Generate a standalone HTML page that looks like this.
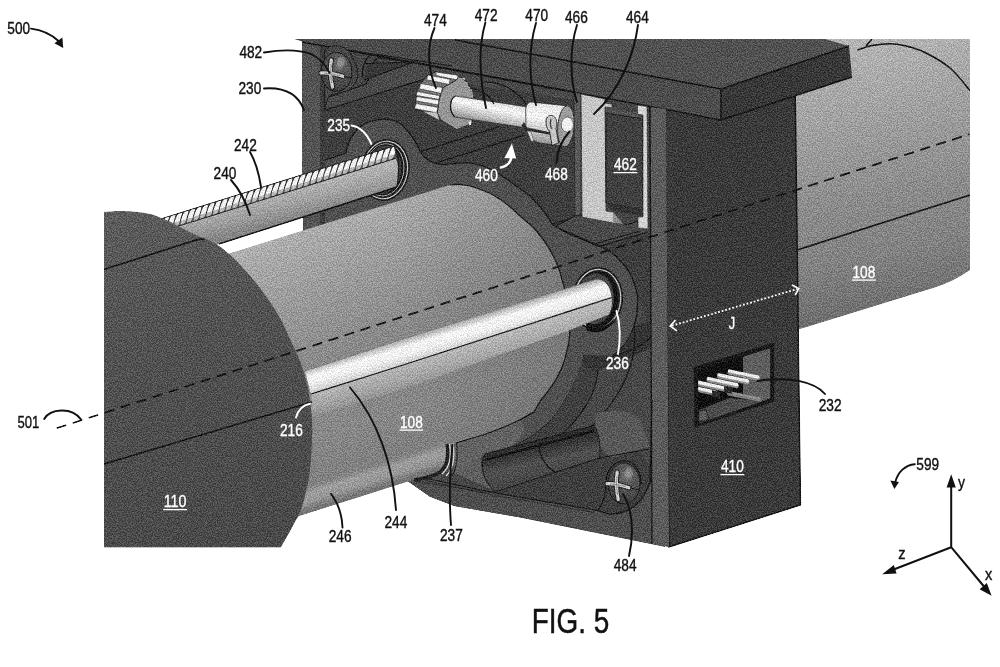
<!DOCTYPE html>
<html><head><meta charset="utf-8"><title>FIG. 5</title>
<style>
html,body{margin:0;padding:0;background:#fff;}
body{width:1000px;height:667px;overflow:hidden;font-family:"Liberation Sans",sans-serif;}
svg{display:block}
text{font-family:"Liberation Sans",sans-serif;}
.lb{font-size:16.6px;fill:#111;stroke:#111;stroke-width:0.4px;}
.lw{font-size:16.6px;fill:#fff;stroke:#fff;stroke-width:0.35px;}
.ld{stroke:#111;stroke-width:1.9;fill:none;stroke-linecap:round}
.lwd{stroke:#fff;stroke-width:1.9;fill:none;stroke-linecap:round}
.k{stroke:#151515;stroke-width:1.5;fill:none}
.k2{stroke:#181818;stroke-width:1.25;fill:none}
.k3{stroke:#222;stroke-width:0.8;fill:none;opacity:.8}
</style></head><body>
<svg width="1000" height="667" viewBox="0 0 1000 667">
<defs>
<linearGradient id="gRC" gradientUnits="userSpaceOnUse" x1="850" y1="39" x2="905" y2="310">
 <stop offset="0" stop-color="#b6b6b6"/><stop offset="0.35" stop-color="#9c9c9c"/><stop offset="0.6" stop-color="#8a8a8a"/><stop offset="0.78" stop-color="#828282"/><stop offset="1" stop-color="#6c6c6c"/>
</linearGradient>
<linearGradient id="gMC" gradientUnits="userSpaceOnUse" x1="330" y1="218" x2="415" y2="495">
 <stop offset="0" stop-color="#b0b0b0"/><stop offset="0.22" stop-color="#9c9c9c"/><stop offset="0.45" stop-color="#8a8a8a"/><stop offset="0.7" stop-color="#888"/><stop offset="0.85" stop-color="#808080"/><stop offset="1" stop-color="#757575"/>
</linearGradient>
<linearGradient id="gDC" gradientUnits="userSpaceOnUse" x1="150" y1="210" x2="250" y2="548">
 <stop offset="0" stop-color="#5c5c5c"/><stop offset="0.35" stop-color="#525252"/><stop offset="1" stop-color="#494949"/>
</linearGradient>
<linearGradient id="gRodU" gradientUnits="userSpaceOnUse" x1="450" y1="325" x2="458" y2="351">
 <stop offset="0" stop-color="#ababab"/><stop offset="0.3" stop-color="#f6f6f6"/><stop offset="0.55" stop-color="#f0f0f0"/><stop offset="0.85" stop-color="#d2d2d2"/><stop offset="1" stop-color="#bababa"/>
</linearGradient>
<linearGradient id="gRodL" gradientUnits="userSpaceOnUse" x1="450" y1="351" x2="457" y2="375">
 <stop offset="0" stop-color="#b8b8b8"/><stop offset="0.6" stop-color="#a4a4a4"/><stop offset="1" stop-color="#909090"/>
</linearGradient>
<linearGradient id="gR240" gradientUnits="userSpaceOnUse" x1="300" y1="187" x2="307" y2="215">
 <stop offset="0" stop-color="#b4b4b4"/><stop offset="0.5" stop-color="#a0a0a0"/><stop offset="1" stop-color="#868686"/>
</linearGradient>
<linearGradient id="gShaft" gradientUnits="userSpaceOnUse" x1="488" y1="100" x2="483" y2="123">
 <stop offset="0" stop-color="#dcdcdc"/><stop offset="0.3" stop-color="#f6f6f6"/><stop offset="0.7" stop-color="#c0c0c0"/><stop offset="1" stop-color="#8a8a8a"/>
</linearGradient>
<linearGradient id="gCoup" gradientUnits="userSpaceOnUse" x1="550" y1="103" x2="543" y2="148">
 <stop offset="0" stop-color="#e4e4e4"/><stop offset="0.35" stop-color="#f4f4f4"/><stop offset="0.7" stop-color="#bdbdbd"/><stop offset="1" stop-color="#7e7e7e"/>
</linearGradient>
<linearGradient id="gSlot" gradientUnits="userSpaceOnUse" x1="540" y1="440" x2="548" y2="476">
 <stop offset="0" stop-color="#2c2c2c"/><stop offset="0.3" stop-color="#3a3a3a"/><stop offset="0.6" stop-color="#505050"/><stop offset="1" stop-color="#464646"/>
</linearGradient>
<linearGradient id="g246" gradientUnits="userSpaceOnUse" x1="350" y1="470" x2="359.1" y2="498.6">
 <stop offset="0" stop-color="#8a8a8a" stop-opacity="0"/><stop offset="0.3" stop-color="#a8a8a8" stop-opacity="0.75"/><stop offset="0.6" stop-color="#a0a0a0" stop-opacity="0.75"/><stop offset="0.82" stop-color="#787878" stop-opacity="0.7"/><stop offset="1" stop-color="#6a6a6a" stop-opacity="0.9"/>
</linearGradient>
<linearGradient id="gAx" gradientUnits="userSpaceOnUse" x1="300" y1="330" x2="570" y2="245">
 <stop offset="0" stop-color="#000" stop-opacity="0"/><stop offset="0.4" stop-color="#000" stop-opacity="0.02"/><stop offset="1" stop-color="#000" stop-opacity="0.13"/>
</linearGradient>
<radialGradient id="gScrew" cx="0.6" cy="0.3" r="0.7">
 <stop offset="0" stop-color="#8a8a8a"/><stop offset="0.25" stop-color="#5e5e5e"/><stop offset="1" stop-color="#3e3e3e"/>
</radialGradient>
<pattern id="thread" patternUnits="userSpaceOnUse" width="7" height="40" patternTransform="rotate(-17.5)">
 <rect width="7" height="40" fill="#f2f2f2"/>
 <path d="M0.2,40 C0.5,26 1.5,12 6.8,0 M7.2,40 C7.5,26 8.5,12 13.8,0 M-6.8,40 C-6.5,26 -5.5,12 -0.2,0" stroke="#2a2a2a" stroke-width="1.5" fill="none"/>
</pattern>
<filter id="grain" x="0" y="0" width="100%" height="100%" color-interpolation-filters="sRGB">
 <feTurbulence type="fractalNoise" baseFrequency="0.8" numOctaves="2" seed="7" result="n"/>
 <feColorMatrix in="n" type="matrix" values="3 0 0 0 -1  3 0 0 0 -1  3 0 0 0 -1  0 0 0 0 1" result="g"/>
 <feComposite in="SourceGraphic" in2="g" operator="arithmetic" k1="0" k2="1" k3="0.18" k4="-0.09" result="c"/>
 <feComposite in="c" in2="SourceAlpha" operator="in"/>
</filter>
<clipPath id="clipImg"><rect x="104" y="39" width="866" height="509"/></clipPath>
</defs>
<rect width="1000" height="667" fill="#fff"/>
<g id="art" filter="url(#grain)">

<g id="rightcyl">
<path d="M795,39 L970,39 L970,270 Q955,281 935,287.5 L800,329 L795,330 Z" fill="url(#gRC)"/>
<path class="k" d="M857.5,50.0 C859.9,49.2 866.6,46.5 872.0,45.5 C877.4,44.5 884.5,43.8 890.0,43.8 C895.5,43.8 899.2,44.3 905.0,45.8 C910.8,47.2 917.5,48.8 925.0,52.5 C932.5,56.2 942.5,61.7 950.0,68.0 C957.5,74.3 966.7,86.8 970.0,90.5"/>
<path class="k" d="M872,39 L866,46"/>
<path class="k" d="M797,250 L970,195"/>
</g>

<g id="housing">
<!-- interior back -->
<path d="M304,39 L665,39 L665,547 L520,517.5 L454,506 L430,496.7 L407.5,481 L303,232 Z" fill="#464646"/>
<!-- darker back wall regions -->
<path d="M325,110 L428,78 L575,100 L575,215 L600,232 L650,232 L650,330 L640,300 L620,262 L594,244 L552,224 L530,195 L502,176 L470,163 L430,165 L420,151 L404,127 L372,121 L354,131 L346,153 L325,160 Z" fill="#3e3e3e"/>
<!-- top recess wedge -->
<path d="M329,97 L366,84 L372,60 L414,62 L575,92 L575,100 L428,78 L325,110 Z" fill="#4a4a4a"/>
<!-- left front strip -->
<path d="M302,39 L320,39 L320,228 L304.5,232 L302,200 Z" fill="#545454"/>
<path d="M294,39 L302,39 L302,41.5 Z" fill="#444"/>
<path d="M320,42 L325,44 L325,226 L320,228 Z" fill="#3c3c3c"/>
<!-- right front strip -->
<path d="M650,107 L666,109 L669,547 L652,543 Z" fill="#5b5b5b"/>
<!-- right face 410 -->
<path d="M665,109 L721,120 L795.2,95.5 L800.5,505 L669,547 Z" fill="#3a3a3a"/>
<!-- top plate -->
<path d="M455,39 L825,39 L849,46 L721,89 Z" fill="#515151"/>
<path d="M302,39 L455,39 L721,89 L721,120 L664,109 L302,41.9 Z" fill="#4c4c4c"/>
<path d="M721,89 L849,46 L852,77 L721,120 Z" fill="#383838"/>
<path class="k" d="M455,40 L721,89 L849,46 M721,89 L721,120 M302,41.9 L664,109 L721,120 L852,77 M665,109 L669,547 L800.5,505 L795.2,95.5"/>
<path class="k2" d="M650,107 L652,543"/>
</g>

<g id="bossplate">
<path d="M325,226 L325,160 L346,153 C348,138 358,124 372,121 C386,117 398,120 404,127 C412,135 417,144 420,151 C424,158 432,164 444,164.5 C452,164 462,162 470,163 C484,165 494,170 502,176 C514,184 522,190 529.5,195.5 C540,206 548,216 552,224 C562,232 580,238 594,244.4 C606,248 614,253 620,260.5 C628,268 632,276 634,283 C637,290 638,296 637.5,302 C638,312 636,320 634,326 C630,340 622,350 612,356 L584,355 C583,362 581,368 579.4,373 C576,384 571,392 565,400 C560,410 554,417 549,422.7 C530,440 505,452 480,458 L456.6,474 L445,470 L430,496.7 L407.5,481 L390,440 Z" fill="#505050"/>
<path class="k2" d="M325,160 L346,153 C348,138 358,124 372,121 C386,117 398,120 404,127 C412,135 417,144 420,151 C424,158 432,164 444,164.5 C452,164 462,162 470,163 C484,165 494,170 502,176 C514,184 522,190 529.5,195.5 C540,206 548,216 552,224 C562,232 580,238 594,244.4 C606,248 614,253 620,260.5 C628,268 632,276 634,283 C637,290 638,296 637.5,302 C638,312 636,320 634,326 C630,340 622,350 612,356"/>
<path class="k2" d="M584,355 C583,362 581,368 579.4,373 C576,384 571,392 565,400 C560,410 554,417 549,422.7 C530,440 505,452 480,458"/>
</g>

<g id="interior">
<!-- back wall lines -->
<path class="k2" d="M325,110 L428,78 M329,97 L366,84 M366,84 C372,76 368,64 378,58 L414,62 M414,62 L575,92 M335,48 L452,66"/>
<path class="k2" d="M421,151.5 L499.5,126.6 M436,163 L523.6,135.4 M552,224 L600,210 M600,232 L650,218 M575,215 L600,232"/>
<!-- screw 482 -->
<path d="M324.7,109.6 L325.5,105.6 C327,99 330,95 332,94.4 C340,93 346,92 349.6,89.6 C355,85 357,80 357.6,76.7 C358,70 357,66 354.4,62.3 C352,54 348,49 343,47 C336,44.5 328,46 324.7,50.2 Z" fill="#484848" stroke="#1c1c1c" stroke-width="1"/>
<path d="M367,64 L414,62 L364,80 Z" fill="#383838"/>
<path class="k2" d="M362.4,78.3 C362,70 364,60 370.4,55 L385,56 M365.6,63.5 L414,62 L364,80"/>
<ellipse cx="336.5" cy="72" rx="15.5" ry="19.5" fill="url(#gScrew)" stroke="#1a1a1a" stroke-width="1"/>
<ellipse cx="341" cy="62" rx="4" ry="5" fill="#9a9a9a" opacity="0.6"/>
<path d="M331.3,60 C329.8,68 330.3,78 332.5,87 M321,73 C328,72.5 336,74.3 343,76.3" stroke="#222" stroke-width="5.2" fill="none" stroke-linecap="round"/>
<path d="M331.3,60 C329.8,68 330.3,78 332.5,87 M321,73 C328,72.5 336,74.3 343,76.3" stroke="#cfcfcf" stroke-width="3.2" fill="none" stroke-linecap="round"/>
<path d="M331.2,64 C330.4,70 330.6,76 331.8,83 M324,73.3 C329,73.2 335,74.5 340,75.8" stroke="#777" stroke-width="0.8" fill="none"/>
<path d="M344,76.5 L352,78" stroke="#1c1c1c" stroke-width="1" fill="none"/>
<!-- gear 474 -->
<path d="M435.6,72.0 L427.8,75.0 L420.6,83.4 L417.0,91.5 L415.8,103.5 L414.6,108.6 L423.0,111.6 L437.4,112.8 L438.6,105.0 L441.0,93.6 L443.4,87.6 L450.0,84.0 L456.6,79.8 L458.4,76.8 L456.6,75.0 Z" fill="#757575" stroke="#1e1e1e" stroke-width="0.9"/>
<path d="M435.6,72.0 L456.6,75.0 L458.4,76.8 L456.6,79.8 L436.2,75.6 Z" fill="#f2f2f2" stroke="#2a2a2a" stroke-width="0.6"/>
<path d="M427.8,75.0 L450.0,79.2 L449.4,84.6 L426.6,79.8 Z" fill="#f2f2f2" stroke="#2a2a2a" stroke-width="0.6"/>
<path d="M420.6,83.4 L442.2,87.6 L441.6,93.6 L419.4,88.8 Z" fill="#f2f2f2" stroke="#2a2a2a" stroke-width="0.6"/>
<path d="M417.0,91.5 L439.8,95.7 L439.2,99.4 L416.4,95.4 Z" fill="#f2f2f2" stroke="#2a2a2a" stroke-width="0.6"/>
<path d="M416.8,96.6 L439.2,100.2 L438.6,105.0 L415.8,100.8 Z" fill="#f2f2f2" stroke="#2a2a2a" stroke-width="0.6"/>
<path d="M415.8,103.5 L438.0,107.4 L436.8,112.8 L414.6,108.6 Z" fill="#f2f2f2" stroke="#2a2a2a" stroke-width="0.6"/>
<path d="M423.0,111.6 L437.4,112.8 L439.2,120.0 L435.0,117.6 Z" fill="#c0c0c0"/>
<path d="M458.4,76.8 L462.6,78.0 L465.0,81.0 L468.0,81.6 L468.6,85.8 L472.2,88.8 L473.7,96.0 L474.0,110.4 L472.2,120.0 L468.6,124.8 L456.6,129.6 L441.0,120.0 L437.4,112.8 L438.6,105.0 L439.2,100.2 L441.0,93.6 L443.4,87.6 L450.0,84.0 L456.6,79.8 Z" fill="#969696" stroke="#2a2a2a" stroke-width="0.8"/>
<path d="M462.4,78.0 L464.4,77.8 L465.0,80.4 Z" fill="#e8e8e8"/>
<path d="M468.6,121.8 L471.6,120.6 L471.0,124.8 L469.2,125.4 Z" fill="#e8e8e8"/>
<!-- shaft 472 -->
<path d="M455.4,96 C450,98 448,110 454.8,117 L527,128 L528,107 Z" fill="url(#gShaft)" stroke="#2a2a2a" stroke-width="0.7"/>
<path d="M455.4,96 C449.5,99 448.5,111 454.8,117" stroke="#1e1e1e" stroke-width="1.3" fill="none"/>
<!-- arcs behind shaft -->
<path class="k2" d="M482,82 C500,80 520,92 527,106 M470,88 C482,90 490,96 494,104"/>
<!-- coupling 470 -->
<path d="M525.7,110 C526,105 528,102 531,102 L565.6,105.7 C572,112 575,134 568,146.7 L540,143 C532,141 528,136 526,129 Z" fill="url(#gCoup)" stroke="#2a2a2a" stroke-width="0.8"/>
<ellipse cx="566" cy="126.3" rx="8.3" ry="20.6" fill="#9c9c9c" stroke="#2a2a2a" stroke-width="0.9" transform="rotate(5 566 126.3)"/>
<ellipse cx="567.3" cy="124.6" rx="6" ry="7.6" fill="#f2f2f2" stroke="#333" stroke-width="0.6"/>
<path d="M521.5,125.5 L524,122 L527,127.5 L551,132.5 L551,135 L526,130.5 Z" fill="#2e2e2e"/>
<path d="M546,122 C546,116 550,114.5 553.5,116 C557,118 557.5,124 556,128 L558.5,143 L552,145.5 L549.5,131 C547,129 546,126 546,122 Z" fill="#c4c4c4" stroke="#262626" stroke-width="0.9"/>
<path d="M551,119 C550,123 550.5,127 552,129" stroke="#333" stroke-width="1.2" fill="none"/>
<path d="M527,131 L531,141 L534,142 L531,131.5 Z" fill="#d8d8d8" stroke="#333" stroke-width="0.5"/>
<!-- 466 strip -->
<path d="M574,92 L581,94 L581,214 L575,216 Z" fill="#5a5a5a" stroke="#222" stroke-width="0.7"/>
<!-- 464 bracket -->
<path d="M581,94 L605,99 L605,103 L612,104 L612,108 L605,107 L606,211 L613,212 L623,224 L613,223 L582,217 Z" fill="#c6c6c6" stroke="#2a2a2a" stroke-width="0.7"/>
<path d="M613,212 L623,224 L613,223 Z" fill="#8f8f8f"/>
<!-- 462 block -->
<path d="M606,108 L638,113 L638,118 L606,113 Z" fill="#525252"/>
<path d="M606,113 L643,119 L643,210 L606,203 Z" fill="#404040" stroke="#1c1c1c" stroke-width="0.9"/>
<path d="M606,203 L643,210 L643,216 L613,211 Z" fill="#333"/>
<!-- right light strip -->
<path d="M637.5,105 L647,106.5 L648,229 L638,228 L638,217 L643,217 L643,115 L637.5,114 Z" fill="#d2d2d2" stroke="#2a2a2a" stroke-width="0.6"/>
<!-- floor under bracket -->
<path d="M556,226 L575,216 L582,217 L613,223 L623,224 L638,228 L648,232 L600,246 Z" fill="#4a4a4a"/>
<path class="k2" d="M556,226 L575,216 M560,229 L600,246 L648,232 M594,244 L640,231"/>
</g>

<g id="lowerint">
<!-- darker zones beyond ring plate -->
<path d="M584,355 L612,356 C624,350 631,338 634,326 L650,330 L652,400 L652,480 C648,500 640,510 625,514 L610,514 L595,510 L492,492 L456.6,474 L480,458 C505,452 530,440 549,422.7 C560,410 576,384 584,355 Z" fill="#3f3f3f"/>
<path d="M598,370 C620,362 640,352 650,345 L652,470 C640,440 600,430 560,436 C580,418 592,396 598,370 Z" fill="#484848"/>
<path d="M584,355 L612,356 C624,350 631,338 634,326 L651,321 L652,347 C640,354 620,363 598,370 C594,372 588,370 583,364 Z" fill="#343434"/>
<!-- arcs -->
<path class="k2" d="M598,370 C596,396 580,418 560,436 M612,356 C640,350 648,340 652,336 M634,326 C640,370 610,420 560,450"/>
<path d="M456,443 C476,437 502,428 520,420 C530,430 520,446 500,450 C488,452 482,454 481,460 C480,470 484,480 492,490 L456.6,474 L446,447 Z" fill="#676767" opacity="0.8"/>
<path d="M596,414 C610,408 630,410 640,420 L650,446 L612,458 C600,452 592,436 596,414 Z" fill="#585858"/>
<!-- groove slot -->
<path d="M485,454 L594,425.5 C599,432 601,446 599.4,458 L495.4,492 C486,484 478,468 485,454 Z" fill="url(#gSlot)" stroke="#1a1a1a" stroke-width="1"/>
<path d="M485,460 L594,431" stroke="#161616" stroke-width="2.6" fill="none"/>
<path class="k2" d="M540,443 C537,452 544,466 555,472 M599.4,458 L649,449"/>
<!-- bottom front strip -->
<path d="M407.5,481 L422,477.5 L492.5,492.5 L595,510 L610,514 C628,514 642,505 650,482 L652,400 L660,400 L660,545 L520,517.5 L454,506 L430,496.7 Z" fill="#4e4e4e"/>
<path d="M650,107 L666,109 L669,547 L652,543.5 Z" fill="#5b5b5b"/>
<path class="k2" d="M650,107 L652,543.5"/>
<path class="k2" d="M422,477.5 L492.5,492.5 L595,510 L610,514 C628,514 642,505 650,482 L652,400"/>
<path class="k3" d="M424,480 L492.5,495 L595,512.5"/>
<!-- screw 484 -->
<path d="M598,510 C604,502 606,494 606,484 C606,470 614,460 626,461 C636,462 641,472 641,484" class="k2"/>
<ellipse cx="624" cy="483.5" rx="16" ry="20.5" fill="url(#gScrew)" stroke="#1a1a1a" stroke-width="1"/>
<ellipse cx="629" cy="473" rx="4" ry="5" fill="#9a9a9a" opacity="0.6"/>
<path d="M617.2,472 C615.8,480 616.2,490 618.2,499.5 M607,483.6 C614,483.2 622,485.3 629,487.8" stroke="#222" stroke-width="5.2" fill="none" stroke-linecap="round"/>
<path d="M617.2,472 C615.8,480 616.2,490 618.2,499.5 M607,483.6 C614,483.2 622,485.3 629,487.8" stroke="#cfcfcf" stroke-width="3.2" fill="none" stroke-linecap="round"/>
<path d="M617,476 C616.3,482 616.5,488 617.6,495 M610,484 C615,483.9 621,485.4 626,486.9" stroke="#777" stroke-width="0.8" fill="none"/>
<path d="M630,488 L639.5,490" stroke="#1c1c1c" stroke-width="1" fill="none"/>
</g>

<g id="leadscrew">
<!-- bearing 235 ring (behind rod) -->
<g transform="rotate(9 385 170)">
<ellipse cx="385" cy="170" rx="24" ry="30.5" fill="#2a2a2a" stroke="#161616" stroke-width="1"/>
<ellipse cx="385" cy="170" rx="22.4" ry="28.9" fill="none" stroke="#d0d0d0" stroke-width="1.1"/>
<ellipse cx="384.6" cy="170" rx="21" ry="27.5" fill="#181818"/>
<ellipse cx="384.2" cy="170" rx="19.6" ry="26.2" fill="none" stroke="#b8b8b8" stroke-width="0.9"/>
<ellipse cx="383.5" cy="170" rx="18.4" ry="25" fill="#3c3c3c" stroke="#141414" stroke-width="0.8"/>
</g>
<!-- rod 240 -->
<path d="M150,234.9 L396,158.2 C399,166 399.5,178 397,187 L190,253.5 Z" fill="url(#gR240)"/>
<path d="M219,244 L397,187" class="k"/>
<!-- thread 242 -->
<clipPath id="clipThr"><path d="M150,222.2 L394,146 L396,158.2 L150,234.9 Z"/></clipPath>
<path d="M150,222.2 L394,146 L396,158.2 L150,234.9 Z" fill="#555"/>
<g fill="#f4f4f4" stroke="#2c2c2c" stroke-width="1" clip-path="url(#clipThr)"><ellipse cx="152.0" cy="227.9" rx="3.1" ry="9.5" transform="rotate(20.7 152.0 227.9)"/><ellipse cx="158.5" cy="225.9" rx="3.1" ry="9.5" transform="rotate(20.7 158.5 225.9)"/><ellipse cx="165.0" cy="223.9" rx="3.1" ry="9.5" transform="rotate(20.7 165.0 223.9)"/><ellipse cx="171.5" cy="221.8" rx="3.1" ry="9.5" transform="rotate(20.7 171.5 221.8)"/><ellipse cx="178.0" cy="219.8" rx="3.1" ry="9.5" transform="rotate(20.7 178.0 219.8)"/><ellipse cx="184.5" cy="217.8" rx="3.1" ry="9.5" transform="rotate(20.7 184.5 217.8)"/><ellipse cx="191.0" cy="215.8" rx="3.1" ry="9.5" transform="rotate(20.7 191.0 215.8)"/><ellipse cx="197.5" cy="213.7" rx="3.1" ry="9.5" transform="rotate(20.7 197.5 213.7)"/><ellipse cx="204.0" cy="211.7" rx="3.1" ry="9.5" transform="rotate(20.7 204.0 211.7)"/><ellipse cx="210.5" cy="209.7" rx="3.1" ry="9.5" transform="rotate(20.7 210.5 209.7)"/><ellipse cx="217.0" cy="207.6" rx="3.1" ry="9.5" transform="rotate(20.7 217.0 207.6)"/><ellipse cx="223.5" cy="205.6" rx="3.1" ry="9.5" transform="rotate(20.7 223.5 205.6)"/><ellipse cx="230.0" cy="203.6" rx="3.1" ry="9.5" transform="rotate(20.7 230.0 203.6)"/><ellipse cx="236.5" cy="201.6" rx="3.1" ry="9.5" transform="rotate(20.7 236.5 201.6)"/><ellipse cx="243.0" cy="199.5" rx="3.1" ry="9.5" transform="rotate(20.7 243.0 199.5)"/><ellipse cx="249.5" cy="197.5" rx="3.1" ry="9.5" transform="rotate(20.7 249.5 197.5)"/><ellipse cx="256.0" cy="195.5" rx="3.1" ry="9.5" transform="rotate(20.7 256.0 195.5)"/><ellipse cx="262.5" cy="193.4" rx="3.1" ry="9.5" transform="rotate(20.7 262.5 193.4)"/><ellipse cx="269.0" cy="191.4" rx="3.1" ry="9.5" transform="rotate(20.7 269.0 191.4)"/><ellipse cx="275.5" cy="189.4" rx="3.1" ry="9.5" transform="rotate(20.7 275.5 189.4)"/><ellipse cx="282.0" cy="187.4" rx="3.1" ry="9.5" transform="rotate(20.7 282.0 187.4)"/><ellipse cx="288.5" cy="185.3" rx="3.1" ry="9.5" transform="rotate(20.7 288.5 185.3)"/><ellipse cx="295.0" cy="183.3" rx="3.1" ry="9.5" transform="rotate(20.7 295.0 183.3)"/><ellipse cx="301.5" cy="181.3" rx="3.1" ry="9.5" transform="rotate(20.7 301.5 181.3)"/><ellipse cx="308.0" cy="179.2" rx="3.1" ry="9.5" transform="rotate(20.7 308.0 179.2)"/><ellipse cx="314.5" cy="177.2" rx="3.1" ry="9.5" transform="rotate(20.7 314.5 177.2)"/><ellipse cx="321.0" cy="175.2" rx="3.1" ry="9.5" transform="rotate(20.7 321.0 175.2)"/><ellipse cx="327.5" cy="173.2" rx="3.1" ry="9.5" transform="rotate(20.7 327.5 173.2)"/><ellipse cx="334.0" cy="171.1" rx="3.1" ry="9.5" transform="rotate(20.7 334.0 171.1)"/><ellipse cx="340.5" cy="169.1" rx="3.1" ry="9.5" transform="rotate(20.7 340.5 169.1)"/><ellipse cx="347.0" cy="167.1" rx="3.1" ry="9.5" transform="rotate(20.7 347.0 167.1)"/><ellipse cx="353.5" cy="165.0" rx="3.1" ry="9.5" transform="rotate(20.7 353.5 165.0)"/><ellipse cx="360.0" cy="163.0" rx="3.1" ry="9.5" transform="rotate(20.7 360.0 163.0)"/><ellipse cx="366.5" cy="161.0" rx="3.1" ry="9.5" transform="rotate(20.7 366.5 161.0)"/><ellipse cx="373.0" cy="159.0" rx="3.1" ry="9.5" transform="rotate(20.7 373.0 159.0)"/><ellipse cx="379.5" cy="156.9" rx="3.1" ry="9.5" transform="rotate(20.7 379.5 156.9)"/><ellipse cx="386.0" cy="154.9" rx="3.1" ry="9.5" transform="rotate(20.7 386.0 154.9)"/><ellipse cx="392.5" cy="152.9" rx="3.1" ry="9.5" transform="rotate(20.7 392.5 152.9)"/></g>
<path d="M150,230.6 L395,154 L396,158.2 L150,234.9 Z" fill="#7a7a7a" opacity="0.5"/>
<path d="M150,222.2 L394,146 M150,234.9 L396,158.2" stroke="#222" stroke-width="1" fill="none"/>
<path d="M394,146 C397,150 399,160 398.5,172 C398,180 397.5,184 397,187" stroke="#1a1a1a" stroke-width="1.2" fill="none"/>
</g>

<g id="midcyl">
<path d="M200,262.5 L304.5,230 L450,185 C456,184 462,184 470,186 C480,189 488,192 494,195.5 C504,201 513,209 520,216 C526,221 530,224 533,227 C541,236 546,243 550,250 C556,260 560,270 562,280 C565,288 566,294 567,300 C569,310 570,318 570,327 C570,336 569,344 566.5,352 C565,360 562,368 558.5,374.6 C554,384 548,392 541,400 C538,404 536,408 534.5,411.6 C526,417 518,421 510,424.5 C502,428 494,431 486,434 C476,437 466,440 456,443 L446,447 L445,464.6 C443,469 440,472 435,474 C429,476 423,478 417,479 L407.7,481.4 L299,516 L296,520 L260,400 Z" fill="url(#gMC)"/>
<path d="M200,262.5 L304.5,230 L450,185 C456,184 462,184 470,186 C480,189 488,192 494,195.5 C504,201 513,209 520,216 C526,221 530,224 533,227 C541,236 546,243 550,250 C556,260 560,270 562,280 C565,288 566,294 567,300 C569,310 570,318 570,327 C570,336 569,344 566.5,352 C565,360 562,368 558.5,374.6 C554,384 548,392 541,400 C538,404 536,408 534.5,411.6 C526,417 518,421 510,424.5 C502,428 494,431 486,434 C476,437 466,440 456,443 L446,447 L445,464.6 C443,469 440,472 435,474 C429,476 423,478 417,479 L407.7,481.4 L299,516 L296,520 L260,400 Z" fill="url(#gAx)"/>
<path class="k2" d="M450,185 C456,184 462,184 470,186 C480,189 488,192 494,195.5 C504,201 513,209 520,216 C526,221 530,224 533,227 C541,236 546,243 550,250 C556,260 560,270 562,280 C565,288 566,294 567,300 C569,310 570,318 570,327 C570,336 569,344 566.5,352 C565,360 562,368 558.5,374.6 C554,384 548,392 541,400 C538,404 536,408 534.5,411.6 C526,417 518,421 510,424.5 C502,428 494,431 486,434 C476,437 466,440 456,443"/>
<!-- 246 lower band -->
<path d="M290,487 L440,439 L446,447 L445,464.6 C443,469 440,472 435,474 L407.7,481.4 L299,516 L290,519 Z" fill="url(#g246)"/>
</g>

<g id="boss237">
<path d="M447,444 C449,456 448,466 440,472 C432,477 422,479 414,480" fill="none" stroke="#222" stroke-width="3.4"/>
<path d="M449.5,444 C451.5,456 450,467 442,474" fill="none" stroke="#e2e2e2" stroke-width="1.1"/>
<path d="M453,443 C455,456 454,468 446,476" fill="none" stroke="#e2e2e2" stroke-width="1.1"/>
<path d="M456.5,443 C458,456 457,468 452,476" fill="none" stroke="#1c1c1c" stroke-width="1"/>
<path class="k3" d="M416,482 C436,484 470,490 492,493"/>
</g>

<g id="rod244">
<!-- bearing 236 back -->
<g transform="rotate(5 597.5 299)">
<ellipse cx="597.5" cy="299" rx="25" ry="31.4" fill="#2a2a2a" stroke="#181818" stroke-width="1"/>
<ellipse cx="597.5" cy="299" rx="23.2" ry="29.6" fill="none" stroke="#c8c8c8" stroke-width="1.2"/>
<ellipse cx="597" cy="299" rx="21.6" ry="28" fill="#161616"/>
<ellipse cx="595" cy="299" rx="19" ry="25.5" fill="#444"/>
</g>
<!-- lower half -->
<path d="M311,394 L400,366 L611.7,297.5 C612.5,304 611.5,310 609,314.4 L568.5,330.6 L400,390 L312,417 Z" fill="url(#gRodL)"/>
<!-- upper half -->
<path d="M305,371 L340,360 L400,340 L594,280 C603,278 610,284 611.7,297.5 L400,366 L311,394 Z" fill="url(#gRodU)"/>
<path d="M311,394 L400,366 L611.7,297.5" class="k2"/>
<path d="M305,371 L400,340 L594,280" stroke="#777" stroke-width="0.6" fill="none"/>
<!-- ring front part -->
<path d="M586,324 C594,330 606,328 614.4,318.4 C610,330 598,336 586,330 Z" fill="#141414"/>
<path d="M611.7,286 C614.5,292 615,306 612,314 C616,310 618,292 611.7,286 Z" fill="#111"/>
<!-- dark notch below rod at bearing -->

</g>

<g id="darkcyl">
<path d="M104.0,211.8 C107.3,211.7 116.7,210.7 124.0,211.0 C131.3,211.3 141.3,212.2 148.0,213.5 C154.7,214.8 158.7,216.8 164.0,219.0 C169.3,221.2 174.7,224.3 180.0,227.0 C185.3,229.7 189.8,232.1 196.0,235.0 C202.2,237.9 210.7,240.6 217.0,244.5 C223.3,248.4 228.3,253.1 234.0,258.5 C239.7,263.9 245.8,270.8 251.0,277.0 C256.2,283.2 260.7,288.7 265.5,295.5 C270.3,302.3 275.8,310.4 280.0,318.0 C284.2,325.6 287.7,333.8 291.0,341.0 C294.3,348.2 297.3,353.8 300.0,361.0 C302.7,368.2 305.3,377.3 307.0,384.0 C308.7,390.7 309.2,395.0 310.0,401.0 C310.8,407.0 311.7,413.5 312.0,420.0 C312.3,426.5 312.3,431.7 312.0,440.0 C311.7,448.3 311.3,460.0 310.0,470.0 C308.7,480.0 306.3,491.7 304.0,500.0 C301.7,508.3 299.8,512.1 296.0,520.0 C292.2,527.9 283.5,542.9 281.0,547.5 L104,547.5 Z" fill="url(#gDC)"/>
<path class="k" d="M104,464 L312,402"/>
<path d="M104,269.6 L196,240 C199,239 202,238.8 204.5,239.6" stroke="#151515" stroke-width="1.6" fill="none"/>
</g>

<path d="M56.6,428.2 L969.5,134.2" stroke="#151515" stroke-width="1.8" stroke-dasharray="10.2 6.6" fill="none"/>

<g id="conn">
<clipPath id="clipConn"><path d="M698,370.5 L770.5,348 L770.5,398.5 L698.7,423.5 Z"/></clipPath>
<path d="M693.7,367 L774.2,342.6 L774.2,401.3 L694.5,427.8 Z" fill="#1a1a1a"/>
<path d="M698,370.5 L770.5,348 L770.5,398.5 L698.7,423.5 Z" fill="#101010"/>
<g clip-path="url(#clipConn)">
<path d="M743,356.5 L770.5,348 L770.5,398.5 L761,401 L743,396 Z" fill="#5e5e5e"/>
<path d="M698.7,410 L729.5,398 L761,401 L770.5,398.5 L770.5,400 L698.7,425 Z" fill="#4c4c4c"/>
<path d="M698.7,411.5 L706,409.5 L709,419 L698.7,422 Z" fill="#5c5c5c" stroke="#111" stroke-width="0.7"/>
<g stroke-linecap="round" fill="none">
<path d="M729.5,393.5 L759.5,399.5" stroke="#7a7a7a" stroke-width="4.8"/>
<path d="M729.5,392.5 L759.5,398.5" stroke="#8f8f8f" stroke-width="2"/>
<path d="M729.5,371.0 L758.0,377.0" stroke="#8a8a8a" stroke-width="4.4" transform="translate(0,1.5)"/>
<path d="M729.5,371.0 L758.0,377.0" stroke="#ececec" stroke-width="3.3"/>
<path d="M719.0,374.8 L747.4,380.8" stroke="#8a8a8a" stroke-width="4.4" transform="translate(0,1.5)"/>
<path d="M719.0,374.8 L747.4,380.8" stroke="#ececec" stroke-width="3.3"/>
<path d="M708.5,378.5 L736.8,384.6" stroke="#8a8a8a" stroke-width="4.4" transform="translate(0,1.5)"/>
<path d="M708.5,378.5 L736.8,384.6" stroke="#ececec" stroke-width="3.3"/>
<path d="M698.0,382.2 L726.2,388.4" stroke="#8a8a8a" stroke-width="4.4" transform="translate(0,1.5)"/>
<path d="M698.0,382.2 L726.2,388.4" stroke="#ececec" stroke-width="3.3"/>
<path d="M687.5,386.0 L715.6,392.2" stroke="#8a8a8a" stroke-width="4.4" transform="translate(0,1.5)"/>
<path d="M687.5,386.0 L715.6,392.2" stroke="#ececec" stroke-width="3.3"/>
</g>
<path d="M724,386 L732,388 L732,394 L724,392 Z M712,390 L720,392 L720,399 L712,397 Z" fill="#2c2c2c"/>
</g>
</g>


<g id="jarrow">
<path d="M672,325.7 L797.5,288.9" stroke="#fff" stroke-width="1.8" stroke-dasharray="1.8 1.9" fill="none"/>
<path d="M675.5,320 L670.3,326.2 L677,330.9" stroke="#fff" stroke-width="1.7" fill="none" stroke-linejoin="miter"/>
<path d="M792,285 L798.7,288.5 L795.2,295" stroke="#fff" stroke-width="1.7" fill="none"/>
</g>
</g><!-- end art -->
<g id="labels">
<text class="lb" x="7.3" y="33.9" textLength="22.799999999999997" lengthAdjust="spacingAndGlyphs">500</text>
<path class="ld" d="M31,28.6 C41,29.8 51,34 58.5,41"/><path d="M63.2,48 L54.4,43.2 L62.4,37.6 Z" fill="#111"/>
<text class="lb" x="239.4" y="58.2" textLength="22.799999999999997" lengthAdjust="spacingAndGlyphs">482</text>
<path class="ld" d="M264,52.5 C285,49 300,50 311,54 C320,58 326,66 329.5,72.7"/>
<text class="lb" x="238.5" y="93.6" textLength="22.799999999999997" lengthAdjust="spacingAndGlyphs">230</text>
<path class="ld" d="M264,88.5 C285,87 298,94 304,110"/>
<text class="lb" x="234" y="150.6" textLength="22.799999999999997" lengthAdjust="spacingAndGlyphs">242</text>
<path class="ld" d="M250,152 C256,162 259,174 261,187"/>
<text class="lb" x="213.6" y="178.6" textLength="22.799999999999997" lengthAdjust="spacingAndGlyphs">240</text>
<path class="ld" d="M231,180 C240,190 246,202 250,215"/>
<text class="lb" x="424" y="25.6" textLength="22.799999999999997" lengthAdjust="spacingAndGlyphs">474</text>
<path class="ld" d="M434.5,28 C427,45 427,68 436,88"/>
<text class="lb" x="474.7" y="20.8" textLength="22.799999999999997" lengthAdjust="spacingAndGlyphs">472</text>
<path class="ld" d="M485.4,22.5 C478,48 480,80 486,108"/>
<text class="lb" x="525.3" y="21.4" textLength="22.799999999999997" lengthAdjust="spacingAndGlyphs">470</text>
<path class="ld" d="M536,23 C528,50 529,80 536,105"/>
<text class="lb" x="565" y="22.6" textLength="22.799999999999997" lengthAdjust="spacingAndGlyphs">466</text>
<path class="ld" d="M577,25 C569,50 570,80 577,102"/>
<text class="lb" x="626" y="23.2" textLength="22.799999999999997" lengthAdjust="spacingAndGlyphs">464</text>
<path class="ld" d="M638,25 C634,55 620,90 594,114"/>
<text class="lw" x="475" y="180.8" textLength="22.799999999999997" lengthAdjust="spacingAndGlyphs">460</text>
<path d="M501,167.5 C508,166 511,162 511.5,156" stroke="#fff" stroke-width="2.6" fill="none" stroke-linecap="round"/><path d="M511.9,143.5 L504.4,158 L516.2,158.6 Z" fill="#fff"/>
<text class="lw" x="545" y="180.2" textLength="22.799999999999997" lengthAdjust="spacingAndGlyphs">468</text>
<path class="ld" d="M556.5,163 C557,150 562,140 569.5,131.5"/>
<text class="lw" x="614" y="170" textLength="22.799999999999997" lengthAdjust="spacingAndGlyphs">462</text>
<path d="M613.5,172.6 h23.799999999999997" stroke="#fff" stroke-width="1.3" fill="none"/>
<text class="lw" x="327.3" y="130.5" textLength="22.799999999999997" lengthAdjust="spacingAndGlyphs">235</text>
<path class="lwd" d="M351.5,125.5 C361,127 367,134 371.4,144"/>
<text class="lw" x="852.5" y="277.5" textLength="22.799999999999997" lengthAdjust="spacingAndGlyphs">108</text>
<path d="M852.0,280.1 h23.799999999999997" stroke="#fff" stroke-width="1.3" fill="none"/>
<text class="lw" x="728.7" y="328.7" textLength="6.4" lengthAdjust="spacingAndGlyphs">J</text>
<text class="lw" x="606" y="369" textLength="22.799999999999997" lengthAdjust="spacingAndGlyphs">236</text>
<path class="lwd" d="M618,354 C620.5,340 620.5,325 616.5,311"/>
<text class="lb" x="818.7" y="410.6" textLength="22.799999999999997" lengthAdjust="spacingAndGlyphs">232</text>
<path class="ld" d="M825,394 C815,382 790,376 757.5,381"/>
<text class="lw" x="721" y="472" textLength="22.799999999999997" lengthAdjust="spacingAndGlyphs">410</text>
<path d="M720.5,474.6 h23.799999999999997" stroke="#fff" stroke-width="1.3" fill="none"/>
<text class="lw" x="280" y="436" textLength="22.799999999999997" lengthAdjust="spacingAndGlyphs">216</text>
<path class="lwd" d="M296,417.5 C298,410 303,405 310,403.7"/>
<text class="lw" x="400" y="427.5" textLength="22.799999999999997" lengthAdjust="spacingAndGlyphs">108</text>
<path d="M399.5,430.1 h23.799999999999997" stroke="#fff" stroke-width="1.3" fill="none"/>
<text class="lw" x="163.7" y="507" textLength="22.799999999999997" lengthAdjust="spacingAndGlyphs">110</text>
<path d="M163.2,509.6 h23.799999999999997" stroke="#fff" stroke-width="1.3" fill="none"/>
<text class="lb" x="17.5" y="427.6" textLength="21.8" lengthAdjust="spacingAndGlyphs">501</text>
<path class="ld" d="M44.2,419 C50,408.5 72,406.5 81.3,419.7"/>
<text class="lb" x="328.7" y="541.6" textLength="22.799999999999997" lengthAdjust="spacingAndGlyphs">246</text>
<path class="ld" d="M342.5,527.5 C342,514 338,503 331,493.7"/>
<text class="lb" x="384.5" y="528.1" textLength="22.799999999999997" lengthAdjust="spacingAndGlyphs">244</text>
<path class="ld" d="M396,510 C393,465 378,420 350,387.5"/>
<text class="lb" x="440" y="540.6" textLength="22.799999999999997" lengthAdjust="spacingAndGlyphs">237</text>
<path class="ld" d="M451,525 C449,500 450,470 452.5,445"/>
<text class="lb" x="613.7" y="570.6" textLength="22.799999999999997" lengthAdjust="spacingAndGlyphs">484</text>
<path class="ld" d="M629,556 C634,535 633,510 623,494"/>
<text class="lb" x="916.3" y="470.1" textLength="22.799999999999997" lengthAdjust="spacingAndGlyphs">599</text>
<path class="ld" d="M914.8,464.2 C905,465 898,472 895.3,482"/><path d="M894.4,489 L890.4,480.6 L899,482 Z" fill="#111"/>
<path d="M951.2,547.2 L951.2,486 M951.2,547.2 L893,569.8 M951.2,547.2 L984,586.5" stroke="#111" stroke-width="2" fill="none"/>
<path d="M951.2,474.3 L946.6,487.4 L955.8,487.4 Z M882.2,574.2 L893.8,565 L896.6,573.6 Z M991.6,595.8 L979.6,589.2 L986.8,583 Z" fill="#111"/>
<text class="lb" x="958" y="487.5" textLength="7" lengthAdjust="spacingAndGlyphs">y</text>
<text class="lb" x="898.3" y="559.3" textLength="7.3" lengthAdjust="spacingAndGlyphs">z</text>
<text class="lb" x="985" y="580.3" textLength="7.3" lengthAdjust="spacingAndGlyphs">x</text>
<text x="531.8" y="633.2" textLength="77.5" lengthAdjust="spacingAndGlyphs" style="font-size:35.8px;fill:#111;stroke:#111;stroke-width:0.5px">FIG. 5</text>
</g>
</svg>
</body></html>
